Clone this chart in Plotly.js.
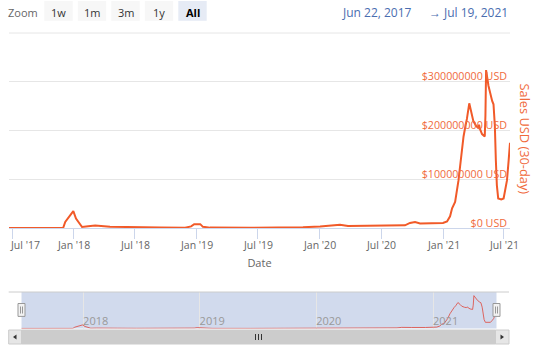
<!DOCTYPE html>
<html><head><meta charset="utf-8">
<script src="https://cdn.plot.ly/plotly-3.0.1.min.js"></script>
<style>html,body{margin:0;padding:0;background:#fff;}#chart{width:543px;height:358px;}</style>
</head><body><div id="chart"></div>
<script>
const dates = ['2017-06-22','2017-09-23','2017-11-30','2017-12-06','2017-12-21','2017-12-30','2018-01-07','2018-01-16','2018-01-25','2018-02-12','2018-03-05','2018-04-18','2018-06-17','2018-09-14','2018-11-27','2018-12-15','2018-12-24','2019-01-11','2019-01-19','2019-02-09','2019-06-08','2019-10-05','2019-11-12','2020-01-02','2020-02-15','2020-03-01','2020-03-25','2020-06-28','2020-09-10','2020-09-25','2020-10-10','2020-10-25','2020-12-09','2021-01-01','2021-01-13','2021-01-22','2021-01-28','2021-02-06','2021-02-16','2021-02-23','2021-03-01','2021-03-03','2021-03-08','2021-03-13','2021-03-20','2021-03-27','2021-04-01','2021-04-09','2021-04-15','2021-04-18','2021-04-21','2021-04-27','2021-05-05','2021-05-07','2021-05-09','2021-05-16','2021-05-21','2021-05-27','2021-05-31','2021-06-04','2021-06-07','2021-06-10','2021-06-14','2021-06-23','2021-06-30','2021-07-06','2021-07-10','2021-07-15','2021-07-19'];
const salesUsd = [0.5e6,0.6e6,1e6,12.9e6,26.5e6,35e6,20e6,12e6,2.7e6,4e6,5.5e6,3e6,2e6,1.4e6,1e6,4e6,8.5e6,8.5e6,3e6,1.4e6,1e6,1.4e6,2e6,3.5e6,7e6,7.5e6,4.7e6,5e6,6e6,11e6,13e6,10e6,10e6,11e6,14e6,24.5e6,41e6,54e6,98e6,145e6,180e6,188e6,207e6,224e6,256e6,237e6,220e6,210e6,206e6,212e6,203e6,193e6,188e6,230e6,324e6,292e6,275e6,261e6,254e6,210e6,139e6,88e6,61e6,59e6,61e6,82e6,98e6,139e6,175e6];
const yTickVals = [0, 1e8, 2e8, 3e8, 4e8];
const yTickText = ['$0 USD', '$100000000 USD', '$200000000 USD', '$300000000 USD', ''];
const xTickVals = ['2017-07-01','2018-01-01','2018-07-01','2019-01-01','2019-07-01','2020-01-01','2020-07-01','2021-01-01','2021-07-01'];
const xTickText = ["Jul '17","Jan '18","Jul '18","Jan '19","Jul '19","Jan '20","Jul '20","Jan '21","Jul '21"];
const navYearVals = ['2018-01-01','2019-01-01','2020-01-01','2021-01-01'];
const navYearText = ['2018','2019','2020','2021'];
const zoomButtons = ['1w','1m','3m','1y','All'];
const selectedButton = 'All';
const rangeFrom = 'Jun 22, 2017';
const rangeTo = 'Jul 19, 2021';

const W = 543, H = 358;
const px = x => x / W;
const py = y => 1 - y / H;
const LINE = '#f15a29';
const LABEL = '#f06a3c';

const shapes = [];
const annotations = [];
function rect(x0, y0, x1, y1, fill, line, layer) {
  shapes.push({type:'rect', xref:'paper', yref:'paper', x0:px(x0), x1:px(x1), y0:py(y1), y1:py(y0),
    fillcolor: fill, line: line ? {color: line, width: 1} : {width: 0}, layer: layer || 'above'});
}
function seg(x0, y0, x1, y1, color, layer) {
  shapes.push({type:'line', xref:'paper', yref:'paper', x0:px(x0), x1:px(x1), y0:py(y0), y1:py(y1),
    line:{color: color, width: 1}, layer: layer || 'above'});
}
function tri(pts, color) {
  const d = pts.map((p, i) => (i ? 'L' : 'M') + px(p[0]) + ',' + py(p[1])).join(' ') + ' Z';
  shapes.push({type:'path', xref:'paper', yref:'paper', path:d, fillcolor:color, line:{width:0}, layer:'above'});
}
function text(t, x, y, size, color, extra) {
  annotations.push(Object.assign({text:t, xref:'paper', yref:'paper', x:px(x), y:py(y), xanchor:'center', yanchor:'middle',
    showarrow:false, font:{family:'Open Sans', size:size, color:color}}, extra || {}));
}

// range selector
text('Zoom', 23.3, 12.1, 11, '#666666');
zoomButtons.forEach((b, i) => {
  const x0 = 44.3 + i * 33.5;
  const sel = b === selectedButton;
  rect(x0, 1, x0 + 28.4, 20.8, sel ? '#e6ebf5' : '#f7f7f7');
  text(sel ? '<b>' + b + '</b>' : b, x0 + 14.2, 12.1, 11, sel ? '#000000' : '#333333');
});
text(rangeFrom, 377.1, 12.1, 12, '#4a6db0');
text('→', 434.5, 12.1, 12, '#4a6db0');
text(rangeTo, 475.2, 12.1, 12, '#4a6db0');

// x tick labels (drawn as annotations at the tick dates)
xTickText.forEach((t, i) => {
  annotations.push({text:t, xref:'x', yref:'paper', x:xTickVals[i], y:py(244.7), xanchor:'center', yanchor:'middle',
    xshift: i === 0 ? 13.2 : 0, showarrow:false, font:{family:'Open Sans', size:10.5, color:'#666666'}});
});
// y title
text('Sales USD (30-day)', 524.5, 139, 12.8, LABEL, {textangle: 90});

// top grid line of plot area
seg(9, 33, 510, 33, '#e6e6e6', 'below');

// navigator
rect(21.5, 292, 496.5, 328.5, 'rgba(102,133,194,0.3)', null, 'below');
seg(8.7, 292, 509, 292, '#cccccc');
[21.5, 496.5].forEach(c => {
  rect(c - 3.5, 303.5, c + 3.5, 316.4, '#f2f2f2', '#999999');
  seg(c - 1, 306.5, c - 1, 313.5, '#999999');
  seg(c + 1, 306.5, c + 1, 313.5, '#999999');
});
// scrollbar
rect(8.7, 330, 509, 344, '#f2f2f2');
rect(21.5, 330, 495.5, 344, '#cccccc', '#cccccc');
rect(8.7, 330, 21.5, 344, '#e6e6e6', '#cccccc');
rect(495.5, 330, 509, 344, '#e6e6e6', '#cccccc');
tri([[16.5,334.5],[13,337],[16.5,339.5]], '#333333');
tri([[500.5,334.5],[504,337],[500.5,339.5]], '#333333');
[255.5, 258.5, 261.5].forEach(x => seg(x, 334, x, 340, '#333333'));

const traces = [
  {x: dates, y: salesUsd, type:'scatter', mode:'lines', xaxis:'x', yaxis:'y',
   line:{color: LINE, width: 2}, hoverinfo:'skip'},
  {x: dates, y: salesUsd, type:'scatter', mode:'lines', xaxis:'x2', yaxis:'y2',
   line:{color:'rgba(222,80,70,0.85)', width: 1}, hoverinfo:'skip'}
];

const layout = {
  width: W, height: H, margin:{l:0, r:0, t:0, b:0},
  paper_bgcolor:'#ffffff', plot_bgcolor:'rgba(0,0,0,0)',
  showlegend:false,
  font:{family:'Open Sans', color:'#666666'},
  xaxis:{domain:[px(9), px(510)], range:['2017-06-22','2021-07-19'], type:'date', anchor:'y',
    tickmode:'array', tickvals:xTickVals, ticktext:xTickVals.map(() => ''),
    ticks:'outside', ticklen:10, tickwidth:1, tickcolor:'#ccd6eb',
    showline:true, linecolor:'#ccd6eb', linewidth:1, showgrid:false, zeroline:false,
    tickfont:{family:'Open Sans', size:10.5, color:'#666666'},
    title:{text:'Date', font:{family:'Open Sans', size:11, color:'#666666'}, standoff:18},
    fixedrange:true},
  yaxis:{domain:[py(228.3), py(33)], range:[0, 4e8], anchor:'x', side:'right',
    tickmode:'array', tickvals:yTickVals, ticktext:yTickText, ticklabelposition:'inside top',
    ticklabelshift:2, ticklabeloverflow:'allow',
    showgrid:true, gridcolor:'#e6e6e6', gridwidth:1, zeroline:false, showline:false, ticks:'',
    tickfont:{family:'Open Sans', size:10.7, color:LABEL}, fixedrange:true},
  xaxis2:{domain:[px(8.7), px(509)], range:['2017-05-13','2021-08-27'], type:'date', anchor:'y2',
    tickmode:'array', tickvals:navYearVals, ticktext:navYearText, ticklabelposition:'inside right',
    ticklabelstandoff:-5,
    showgrid:true, gridcolor:'#e6e6e6', showline:false, zeroline:false, ticks:'',
    tickfont:{family:'Open Sans', size:11, color:'#999999'}, fixedrange:true},
  yaxis2:{domain:[py(328.5), py(292)], range:[0, 3.6e8], anchor:'x2', visible:false, fixedrange:true},
  shapes: shapes,
  annotations: annotations
};

Plotly.newPlot('chart', traces, layout, {staticPlot:true, displayModeBar:false});
</script>
</body></html>
